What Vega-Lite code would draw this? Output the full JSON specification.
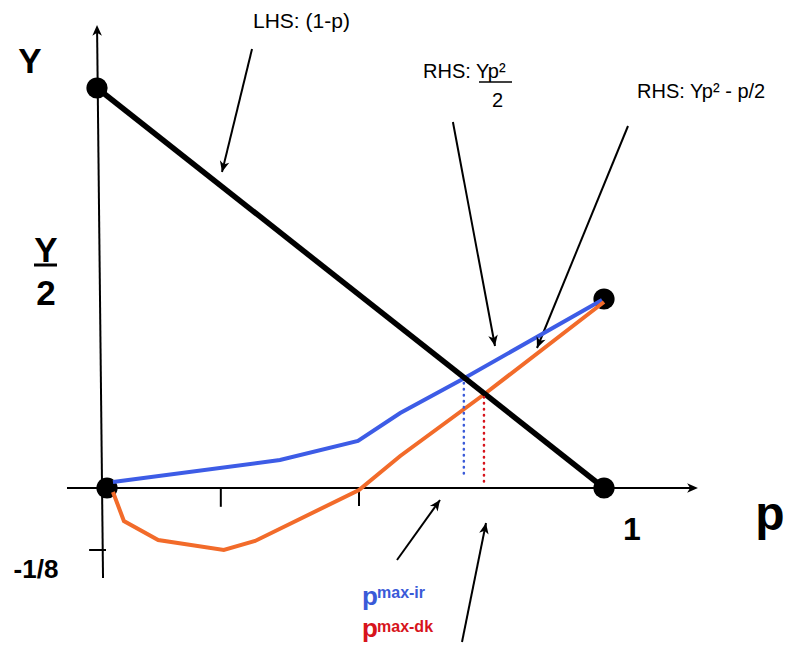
{
  "$schema": "https://vega.github.io/schema/vega-lite/v6.json",
  "width": 785,
  "height": 645,
  "autosize": {"type": "fit", "contains": "padding"},
  "padding": 0,
  "background": "white",
  "config": {"view": {"stroke": null}, "text": {"font": "Liberation Sans"}},
  "datasets": {
    "thin": [
      {"p": -0.0805, "y": 0, "p2": 1.18, "y2": 0},
      {"p": -0.008, "y": -0.225, "p2": -0.0199, "y2": 1.14},
      {"p": 0.229, "y": 0, "p2": 0.229, "y2": -0.047},
      {"p": 0.507, "y": 0, "p2": 0.507, "y2": -0.045},
      {"p": -0.036, "y": -0.155, "p2": -0.002, "y2": -0.155},
      {"p": 0.2918, "y": 1.0975, "p2": 0.2314, "y2": 0.79},
      {"p": 0.696, "y": 0.915, "p2": 0.7807, "y2": 0.355},
      {"p": 1.0483, "y": 0.905, "p2": 0.8652, "y2": 0.35},
      {"p": 0.5835, "y": -0.18, "p2": 0.67, "y2": -0.03},
      {"p": 0.7143, "y": -0.385, "p2": 0.7626, "y2": -0.0875}
    ],
    "lhs": [{"p": -0.0201, "y": 1.0, "p2": 1.0, "y2": 0}],
    "blue": [
      {"p": 0.012, "y": 0.015},
      {"p": 0.348, "y": 0.07},
      {"p": 0.505, "y": 0.1175},
      {"p": 0.59, "y": 0.1875},
      {"p": 0.716, "y": 0.2725},
      {"p": 0.996, "y": 0.47}
    ],
    "orange": [
      {"p": 0.012, "y": -0.01},
      {"p": 0.034, "y": -0.0825},
      {"p": 0.103, "y": -0.13},
      {"p": 0.235, "y": -0.155},
      {"p": 0.298, "y": -0.1325},
      {"p": 0.507, "y": -0.005},
      {"p": 0.59, "y": 0.08},
      {"p": 0.757, "y": 0.2325},
      {"p": 1.0, "y": 0.465}
    ],
    "dotted": [
      {"p": 0.718, "y": 0.2625, "y2": 0.025, "s": "ir"},
      {"p": 0.7585, "y": 0.2275, "y2": 0.0025, "s": "dk"}
    ],
    "dots": [
      {"p": -0.0201, "y": 1.0},
      {"p": 0.0, "y": 0.0},
      {"p": 1.0, "y": 0.0},
      {"p": 1.0, "y": 0.4725}
    ],
    "heads": [
      {"p": 1.189, "y": 0, "dir": 90},
      {"p": -0.0201, "y": 1.1575, "dir": 359.4},
      {"p": 0.2314, "y": 0.79, "dir": 193.7},
      {"p": 0.7807, "y": 0.355, "dir": 169.4},
      {"p": 0.8652, "y": 0.35, "dir": 202.3},
      {"p": 0.67, "y": -0.03, "dir": 35.6},
      {"p": 0.7626, "y": -0.0875, "dir": 11.4}
    ],
    "bar3": [{"p": -0.1469, "y": 0.5575, "p2": -0.1006, "y2": 0.5575}],
    "bar1": [{"p": 0.7485, "y": 1.015, "p2": 0.8149, "y2": 1.015}],
    "big34": [
      {"p": -0.155, "y": 1.0375, "t": "Y"},
      {"p": -0.1227, "y": 0.565, "t": "Y"},
      {"p": -0.1227, "y": 0.4575, "t": "2"}
    ],
    "t26": [{"p": -0.1429, "y": -0.225, "t": "-1/8"}],
    "t32": [{"p": 1.0563, "y": -0.13, "t": "1"}],
    "t48": [{"p": 1.334, "y": -0.105, "t": "p"}],
    "lhstext": [{"p": 0.2938, "y": 1.15, "t": "LHS: (1-p)"}],
    "notes": [
      {"p": 0.6358, "y": 1.025, "t": "RHS: Yp²"},
      {"p": 0.7746, "y": 0.9525, "t": "2"},
      {"p": 1.0664, "y": 0.975, "t": "RHS: Yp² - p/2"}
    ],
    "pl": [
      {"p": 0.513, "y": -0.2925, "t": "p", "s": "ir"},
      {"p": 0.513, "y": -0.3725, "t": "p", "s": "dk"}
    ],
    "sup": [
      {"p": 0.5433, "y": -0.275, "t": "max-ir", "s": "ir"},
      {"p": 0.5433, "y": -0.36, "t": "max-dk", "s": "dk"}
    ]
  },
  "encoding": {
    "x": {"field": "p", "type": "quantitative", "scale": {"domain": [-0.2153, 1.3642], "nice": false, "zero": false}, "axis": null},
    "y": {"field": "y", "type": "quantitative", "scale": {"domain": [-0.3925, 1.22], "nice": false, "zero": false}, "axis": null}
  },
  "layer": [
    {
      "data": {"name": "thin"},
      "mark": {"type": "rule", "color": "black", "strokeWidth": 2},
      "encoding": {"x2": {"field": "p2"}, "y2": {"field": "y2"}}
    },
    {
      "data": {"name": "dots"},
      "mark": {"type": "point", "shape": "circle", "filled": true, "color": "black", "opacity": 1, "size": 450}
    },
    {
      "data": {"name": "blue"},
      "mark": {"type": "line", "color": "#3d5ce6", "strokeWidth": 4},
      "encoding": {}
    },
    {
      "data": {"name": "orange"},
      "mark": {"type": "line", "color": "#f26b2a", "strokeWidth": 4},
      "encoding": {}
    },
    {
      "data": {"name": "lhs"},
      "mark": {"type": "rule", "color": "black", "strokeWidth": 5.5},
      "encoding": {"x2": {"field": "p2"}, "y2": {"field": "y2"}}
    },
    {
      "data": {"name": "dotted"},
      "mark": {"type": "rule", "strokeWidth": 2.5, "strokeDash": [0.5, 5.5], "strokeCap": "round"},
      "encoding": {
        "y2": {"field": "y2"},
        "color": {"field": "s", "type": "nominal", "scale": {"domain": ["ir", "dk"], "range": ["#3a5ad8", "#d7141c"]}, "legend": null}
      }
    },
    {
      "data": {"name": "heads"},
      "mark": {"type": "point", "shape": "M0,0L0.8,1.8L0,1.3L-0.8,1.8Z", "filled": true, "color": "black", "opacity": 1, "size": 144},
      "encoding": {"angle": {"field": "dir", "type": "quantitative", "scale": null}}
    },
    {
      "data": {"name": "bar3"},
      "mark": {"type": "rule", "color": "black", "strokeWidth": 3},
      "encoding": {"x2": {"field": "p2"}, "y2": {"field": "y2"}}
    },
    {
      "data": {"name": "bar1"},
      "mark": {"type": "rule", "color": "black", "strokeWidth": 1.5},
      "encoding": {"x2": {"field": "p2"}, "y2": {"field": "y2"}}
    },
    {
      "data": {"name": "big34"},
      "mark": {"type": "text", "fontSize": 35, "fontWeight": "bold", "align": "center", "baseline": "alphabetic", "color": "black"},
      "encoding": {"text": {"field": "t"}}
    },
    {
      "data": {"name": "t26"},
      "mark": {"type": "text", "fontSize": 26, "fontWeight": "bold", "align": "center", "baseline": "alphabetic", "color": "black"},
      "encoding": {"text": {"field": "t"}}
    },
    {
      "data": {"name": "t32"},
      "mark": {"type": "text", "fontSize": 32, "fontWeight": "bold", "align": "center", "baseline": "alphabetic", "color": "black"},
      "encoding": {"text": {"field": "t"}}
    },
    {
      "data": {"name": "t48"},
      "mark": {"type": "text", "fontSize": 48, "fontWeight": "bold", "align": "center", "baseline": "alphabetic", "color": "black"},
      "encoding": {"text": {"field": "t"}}
    },
    {
      "data": {"name": "lhstext"},
      "mark": {"type": "text", "fontSize": 21, "align": "left", "baseline": "alphabetic", "color": "black"},
      "encoding": {"text": {"field": "t"}}
    },
    {
      "data": {"name": "notes"},
      "mark": {"type": "text", "fontSize": 20, "align": "left", "baseline": "alphabetic", "color": "black"},
      "encoding": {"text": {"field": "t"}}
    },
    {
      "data": {"name": "pl"},
      "mark": {"type": "text", "fontSize": 26, "fontWeight": "bold", "align": "left", "baseline": "alphabetic"},
      "encoding": {
        "text": {"field": "t"},
        "color": {"field": "s", "type": "nominal", "scale": {"domain": ["ir", "dk"], "range": ["#3a5ad8", "#d7141c"]}, "legend": null}
      }
    },
    {
      "data": {"name": "sup"},
      "mark": {"type": "text", "fontSize": 16, "fontWeight": "bold", "align": "left", "baseline": "alphabetic"},
      "encoding": {
        "text": {"field": "t"},
        "color": {"field": "s", "type": "nominal", "scale": {"domain": ["ir", "dk"], "range": ["#3a5ad8", "#d7141c"]}, "legend": null}
      }
    }
  ]
}
